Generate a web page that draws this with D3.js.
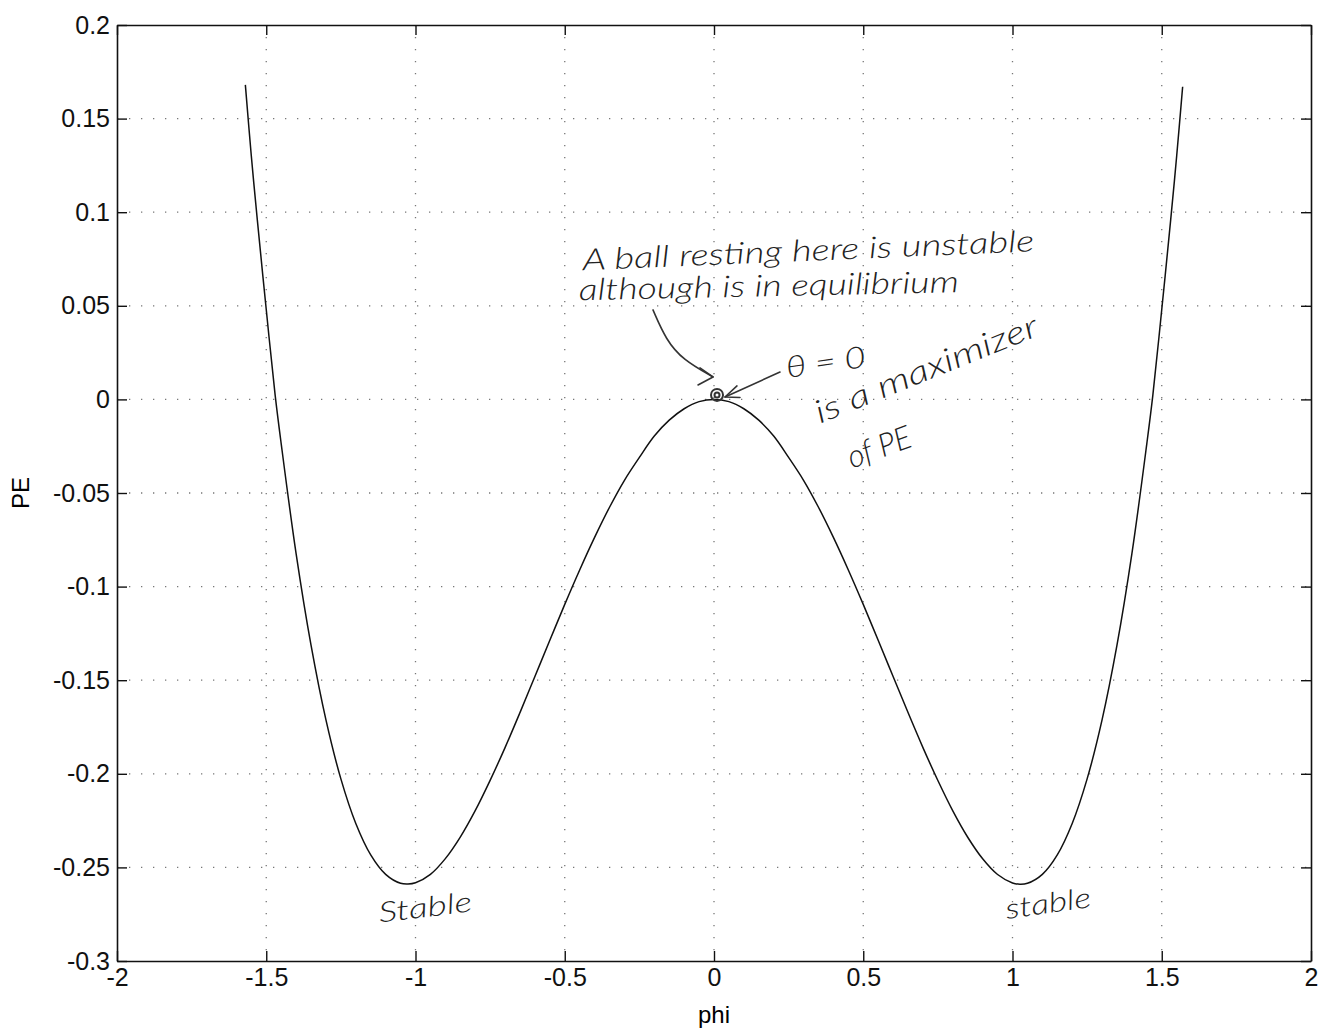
<!DOCTYPE html>
<html>
<head>
<meta charset="utf-8">
<script src="https://cdn.jsdelivr.net/npm/d3@7"></script>
<style>
  body { margin: 0; background: #fff; }
  svg text { font-family: "Liberation Sans", Arial, sans-serif; }
  .tick text { font-size: 25px; fill: #111; }
  .hand { font-family: Lato, "DejaVu Sans", sans-serif; font-style: italic; font-weight: 300; fill: #222; }
</style>
</head>
<body>
<svg class="chart" width="1327" height="1032"></svg>
<script>
// values
const phi = [-1.57, -1.55, -1.53, -1.5, -1.47, -1.45, -1.4, -1.35, -1.3, -1.25, -1.2, -1.15, -1.1, -1.05, -1.025,
  -1.0, -0.95, -0.9, -0.85, -0.8, -0.75, -0.7, -0.65, -0.6, -0.55, -0.5, -0.45, -0.4, -0.35, -0.3, -0.25, -0.2,
  -0.15, -0.1, -0.05, 0,
  0.05, 0.1, 0.15, 0.2, 0.25, 0.3, 0.35, 0.4, 0.45, 0.5, 0.55, 0.6, 0.65, 0.7, 0.75, 0.8, 0.85, 0.9, 0.95,
  1.0, 1.025, 1.05, 1.1, 1.15, 1.2, 1.25, 1.3, 1.35, 1.4, 1.45, 1.47, 1.5, 1.53, 1.55, 1.57];
const pe = [0.168, 0.130, 0.096, 0.048, 0.002, -0.0236, -0.0824, -0.1313, -0.1712, -0.2027, -0.2265, -0.2433, -0.2537, -0.2585, -0.2589,
  -0.2582, -0.2537, -0.2453, -0.2338, -0.2197, -0.2035, -0.1860, -0.1673, -0.1480, -0.1287, -0.1095, -0.0911, -0.0737, -0.0576, -0.0432, -0.0310, -0.0196,
  -0.0111, -0.0050, -0.0012, 0,
  -0.0012, -0.0050, -0.0111, -0.0196, -0.0310, -0.0432, -0.0576, -0.0737, -0.0911, -0.1095, -0.1287, -0.1480, -0.1673, -0.1860, -0.2036, -0.2198, -0.2339, -0.2454, -0.2538,
  -0.2583, -0.2590, -0.2585, -0.2537, -0.2433, -0.2265, -0.2027, -0.1712, -0.1313, -0.0824, -0.0236, 0.002, 0.048, 0.096, 0.130, 0.167];

const xTicks = [-2, -1.5, -1, -0.5, 0, 0.5, 1, 1.5, 2];
const yTicks = [-0.3, -0.25, -0.2, -0.15, -0.1, -0.05, 0, 0.05, 0.1, 0.15, 0.2];

// handwritten notes (phi, PE, text, angle, width)
const notes = [
  { x: -0.439, y: 0.0690, text: "A ball resting here is unstable", rot: -2.4, len: 452, size: 30 },
  { x: -0.452, y: 0.0530, text: "although is in equilibrium", rot: -1.2, len: 380, size: 30 },
  { x: 0.246, y: 0.0114, text: "θ = 0", rot: -8, len: 80, size: 30 },
  { x: 0.355, y: -0.0130, text: "is a maximizer", rot: -22, len: 238, size: 32 },
  { x: 0.462, y: -0.0370, text: "of PE", rot: -20, len: 66, size: 32 },
  { x: -1.12, y: -0.2795, text: "Stable", rot: -7, len: 94, size: 28 },
  { x: 0.981, y: -0.2775, text: "stable", rot: -8, len: 86, size: 28 }
];
const arrowCurve = [[-0.2044, 0.0478], [-0.1608, 0.0318], [-0.1039, 0.0211], [-0.0033, 0.0120]];
const arrowHead1 = [[-0.047, 0.0168], [-0.0033, 0.0120], [-0.0536, 0.0077]];
const arrowLine = [[0.2211, 0.0146], [0.0369, 0.0013]];
const arrowHead2 = [[0.0770, 0.0072], [0.0369, 0.0013], [0.0870, 0.0010]];
const ball = [0.0101, 0.0024];

const plotLeft = 117, plotRight = 1311, plotTop = 25, plotBottom = 961;

const svg = d3.select("svg.chart");

const x = d3.scaleLinear().domain([-2, 2]).range([plotLeft, plotRight]);
const y = d3.scaleLinear().domain([-0.3, 0.2]).range([plotBottom, plotTop]);

// dotted grid
svg.append("g")
  .selectAll("line")
  .data(xTicks.slice(1, -1))
  .enter().append("line")
  .attr("x1", d => x(d)).attr("x2", d => x(d))
  .attr("y1", plotTop).attr("y2", plotBottom)
  .attr("stroke", "#777").attr("stroke-width", 1.3)
  .attr("stroke-dasharray", "1.3,10.7");

svg.append("g")
  .selectAll("line")
  .data(yTicks.slice(1, -1))
  .enter().append("line")
  .attr("x1", plotLeft).attr("x2", plotRight)
  .attr("y1", d => y(d)).attr("y2", d => y(d))
  .attr("stroke", "#777").attr("stroke-width", 1.3)
  .attr("stroke-dasharray", "1.3,10.7");

// axes, ticks inside like matlab
svg.append("g")
  .attr("transform", "translate(0," + plotBottom + ")")
  .call(d3.axisBottom(x).tickValues(xTicks).tickSizeInner(-10).tickSizeOuter(0).tickPadding(7).tickFormat(d => String(d)));
svg.append("g")
  .attr("transform", "translate(0," + plotTop + ")")
  .call(d3.axisTop(x).tickValues(xTicks).tickSizeInner(-10).tickSizeOuter(0).tickFormat(""));
svg.append("g")
  .attr("transform", "translate(" + plotLeft + ",0)")
  .call(d3.axisLeft(y).tickValues(yTicks).tickSizeInner(-10).tickSizeOuter(0).tickPadding(7).tickFormat(d => String(d)));
svg.append("g")
  .attr("transform", "translate(" + plotRight + ",0)")
  .call(d3.axisRight(y).tickValues(yTicks).tickSizeInner(-10).tickSizeOuter(0).tickFormat(""));

svg.selectAll(".domain").attr("stroke", "#111").attr("stroke-width", 1.6);
svg.selectAll(".tick line").attr("stroke", "#111").attr("stroke-width", 1.4);

// the curve
const line = d3.line()
  .x(d => x(d[0]))
  .y(d => y(d[1]))
  .curve(d3.curveCatmullRom.alpha(0.5));

svg.append("path")
  .datum(phi.map((p, i) => [p, pe[i]]))
  .attr("fill", "none")
  .attr("stroke", "#111")
  .attr("stroke-width", 1.5)
  .attr("d", line);

// axis labels
svg.append("text")
  .attr("x", x(0)).attr("y", 1023)
  .attr("text-anchor", "middle")
  .style("font-size", "24px")
  .text("phi");

svg.append("text")
  .attr("transform", "translate(29," + y(-0.05) + ") rotate(-90)")
  .attr("text-anchor", "middle")
  .style("font-size", "24px")
  .text("PE");

// handwritten annotations
const ink = svg.append("g").attr("fill", "none").attr("stroke", "#333").attr("stroke-width", 1.6)
  .attr("stroke-linecap", "round").attr("stroke-linejoin", "round");
const plain = d3.line().x(d => x(d[0])).y(d => y(d[1]));
const smooth = d3.line().x(d => x(d[0])).y(d => y(d[1])).curve(d3.curveBasis);

ink.append("path").attr("d", smooth(arrowCurve));
ink.append("path").attr("d", plain(arrowHead1));
ink.append("path").attr("d", plain(arrowLine));
ink.append("path").attr("d", plain(arrowHead2));
ink.append("circle").attr("cx", x(ball[0])).attr("cy", y(ball[1])).attr("r", 6).attr("stroke-width", 2);
ink.append("circle").attr("cx", x(ball[0])).attr("cy", y(ball[1])).attr("r", 2.5).attr("stroke-width", 2);

svg.append("g")
  .selectAll("text")
  .data(notes)
  .enter().append("text")
  .attr("class", "hand")
  .attr("transform", d => "translate(" + x(d.x) + "," + y(d.y) + ") rotate(" + d.rot + ")")
  .attr("textLength", d => d.len)
  .attr("lengthAdjust", "spacingAndGlyphs")
  .style("font-size", d => d.size + "px")
  .text(d => d.text);
</script>
</body>
</html>
